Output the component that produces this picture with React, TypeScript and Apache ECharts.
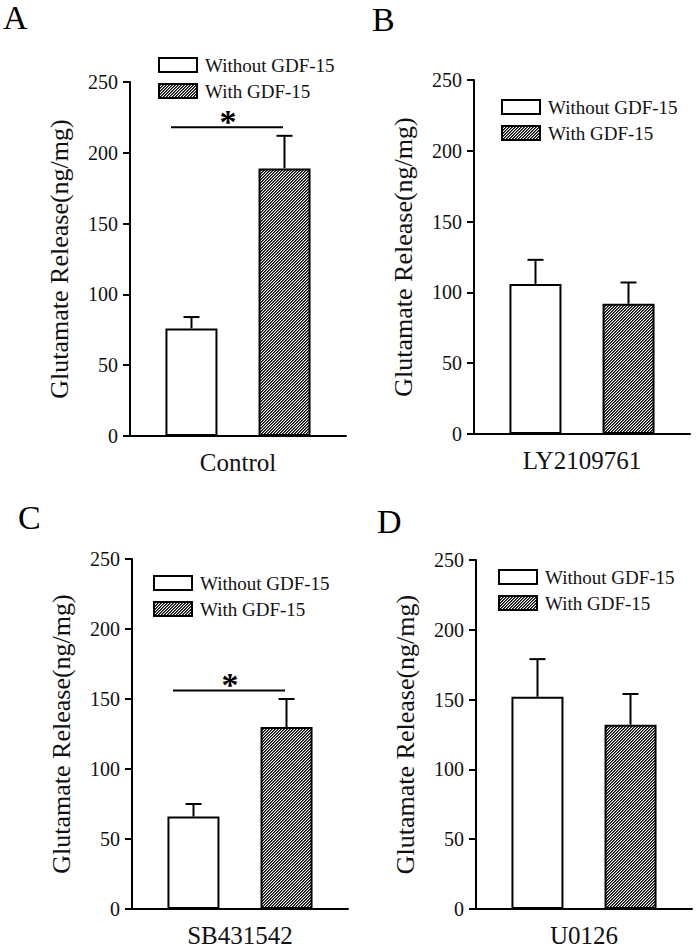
import React, { useEffect, useRef } from 'react';
import * as echarts from 'echarts';

const panelLetters = ['A', 'B', 'C', 'D'];
const categories = ['Control', 'LY2109761', 'SB431542', 'U0126'];
const seriesNames = ['Without GDF-15', 'With GDF-15'];
const withoutMean = [76, 106, 66, 152];
const withoutErrTop = [84, 123, 75, 179];
const withMean = [189, 92, 130, 132];
const withErrTop = [212, 107, 150, 154];
const sigLevel: (number | null)[] = [218, null, 156, null];
const yMin = 0;
const yMax = 250;
const yInterval = 50;
const yTitle = 'Glutamate Release(ng/mg)';

const FONT = 'Liberation Serif, Times New Roman, serif';
const INK = '#111';

const grids = [
  { left: 130, top: 82, width: 216, height: 354 },
  { left: 474, top: 80, width: 216, height: 354 },
  { left: 132, top: 559, width: 216, height: 354 },
  { left: 476, top: 560, width: 216, height: 354 },
];
const legendPos = [
  { left: 158, top: 55.5 },
  { left: 501, top: 97.5 },
  { left: 153, top: 573.5 },
  { left: 498, top: 567.5 },
];
const letterPos = [
  { x: 3, y: 0 },
  { x: 372, y: 2 },
  { x: 18, y: 500 },
  { x: 377, y: 504 },
];

const BAR_W = 52;
const HALF_SPACING = 46.5;

function makeHatch(): any {
  const c = document.createElement('canvas');
  c.width = 3;
  c.height = 3;
  const ctx = c.getContext('2d');
  if (ctx) {
    for (let y = 0; y < 3; y++) {
      for (let x = 0; x < 3; x++) {
        const k = (x + y) % 3;
        ctx.fillStyle = k === 0 ? '#ffffff' : k === 1 ? '#000000' : '#555555';
        ctx.fillRect(x, y, 1, 1);
      }
    }
  }
  return { image: c, repeat: 'repeat' };
}

function buildOption() {
  const hatchFill = makeHatch();
  const series: any[] = [];
  const xAxis: any[] = [];
  const yAxis: any[] = [];
  const legend: any[] = [];
  const graphic: any[] = [];

  grids.forEach((g, i) => {
    xAxis.push({
      type: 'category',
      gridIndex: i,
      data: [categories[i]],
      axisLine: { lineStyle: { color: '#000', width: 2 } },
      axisTick: { show: false },
      axisLabel: { fontFamily: FONT, fontSize: 25, color: INK, margin: 14 },
    });
    yAxis.push({
      type: 'value',
      gridIndex: i,
      min: yMin,
      max: yMax,
      interval: yInterval,
      name: yTitle,
      nameLocation: 'middle',
      nameGap: 58,
      nameTextStyle: { fontFamily: FONT, fontSize: 26, color: INK },
      axisLine: { show: true, lineStyle: { color: '#000', width: 2 } },
      axisTick: { show: true, length: 7, lineStyle: { color: '#000', width: 2 } },
      axisLabel: { fontFamily: FONT, fontSize: 20, color: INK, margin: 12 },
      splitLine: { show: false },
    });
    series.push({
      type: 'bar',
      name: seriesNames[0],
      xAxisIndex: i,
      yAxisIndex: i,
      data: [withoutMean[i]],
      barWidth: BAR_W,
      barGap: '79%',
      itemStyle: { color: '#fff', borderColor: '#000', borderWidth: 2 },
    });
    series.push({
      type: 'bar',
      name: seriesNames[1],
      xAxisIndex: i,
      yAxisIndex: i,
      data: [withMean[i]],
      barWidth: BAR_W,
      barGap: '79%',
      itemStyle: { color: hatchFill, borderColor: '#000', borderWidth: 2 },
    });
    series.push({
      type: 'custom',
      xAxisIndex: i,
      yAxisIndex: i,
      silent: true,
      z: 5,
      data: [
        [0, withoutMean[i], withoutErrTop[i], -1],
        [0, withMean[i], withErrTop[i], 1],
      ],
      renderItem: (params: any, api: any) => {
        const dx = api.value(3) * HALF_SPACING;
        const p0 = api.coord([api.value(0), api.value(1)]);
        const p1 = api.coord([api.value(0), api.value(2)]);
        const x = p0[0] + dx;
        return {
          type: 'group',
          children: [
            { type: 'line', shape: { x1: x, y1: p0[1], x2: x, y2: p1[1] }, style: { stroke: '#000', lineWidth: 2 } },
            { type: 'line', shape: { x1: x - 8, y1: p1[1], x2: x + 8, y2: p1[1] }, style: { stroke: '#000', lineWidth: 2 } },
          ],
        };
      },
    });
    if (sigLevel[i] != null) {
      series.push({
        type: 'custom',
        xAxisIndex: i,
        yAxisIndex: i,
        silent: true,
        z: 5,
        data: [[0, sigLevel[i]]],
        renderItem: (params: any, api: any) => {
          const c = api.coord([api.value(0), api.value(1)]);
          return {
            type: 'group',
            children: [
              { type: 'line', shape: { x1: c[0] - 67, y1: c[1], x2: c[0] + 45, y2: c[1] }, style: { stroke: '#000', lineWidth: 2 } },
              {
                type: 'text',
                x: c[0] - 10,
                y: c[1] - 6,
                style: { text: '*', font: `bold 34px ${FONT}`, textAlign: 'center', textVerticalAlign: 'middle', fill: '#000' },
              },
            ],
          };
        },
      });
    }
    legend.push({
      left: legendPos[i].left,
      top: legendPos[i].top,
      padding: 0,
      orient: 'vertical',
      itemWidth: 38,
      itemHeight: 14,
      itemGap: 7,
      icon: 'rect',
      selectedMode: false,
      data: seriesNames,
      itemStyle: { borderColor: '#000', borderWidth: 2 },
      textStyle: { fontFamily: FONT, fontSize: 19, color: INK, padding: [0, 0, 0, 3] },
    });
    graphic.push({
      type: 'text',
      x: letterPos[i].x,
      y: letterPos[i].y,
      style: { text: panelLetters[i], font: `34px ${FONT}`, fill: '#000', textVerticalAlign: 'top' },
    });
  });

  return {
    animation: false,
    backgroundColor: '#fff',
    grid: grids.map((g) => ({ ...g, containLabel: false })),
    xAxis,
    yAxis,
    legend,
    series,
    graphic,
  };
}

export default function App() {
  const ref = useRef<HTMLDivElement>(null);
  useEffect(() => {
    if (!ref.current) return;
    const chart = echarts.init(ref.current, undefined, { renderer: 'svg' });
    chart.setOption(buildOption() as any);
    return () => chart.dispose();
  }, []);
  return <div ref={ref} style={{ position: 'absolute', left: 0, top: 0, width: 697, height: 948 }} />;
}
